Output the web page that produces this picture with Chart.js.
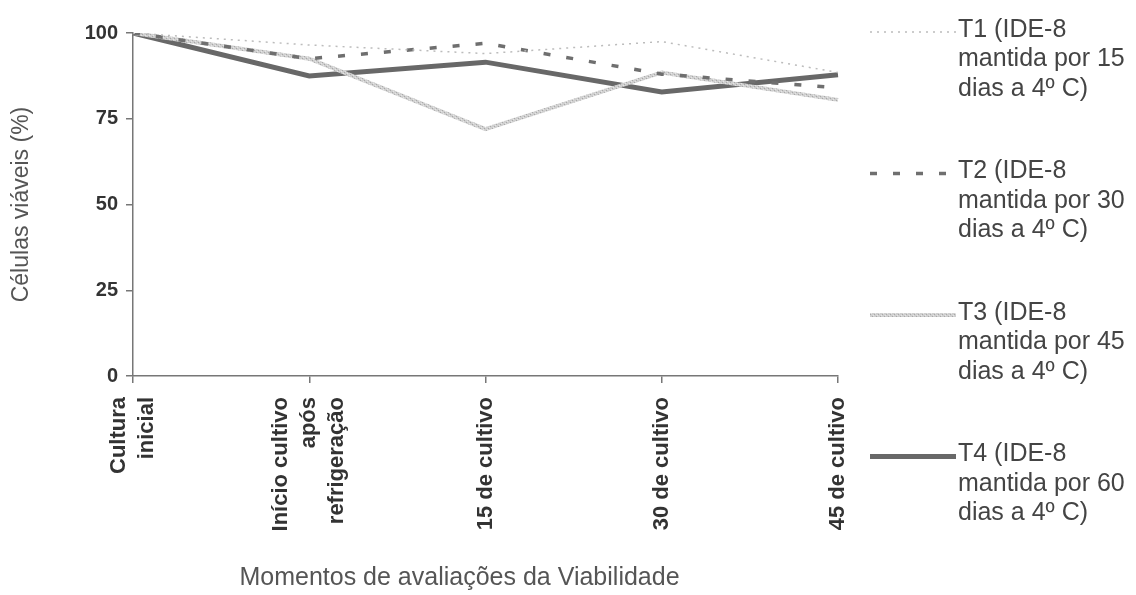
<!DOCTYPE html>
<html lang="pt">
<head>
<meta charset="utf-8">
<title>Células viáveis (%)</title>
<script src="https://cdn.jsdelivr.net/npm/chart.js@4.4.1/dist/chart.umd.min.js"></script>
<style>
    html, body { margin: 0; padding: 0; background: #fff; }
    #wrap { position: relative; width: 1136px; height: 595px; }
</style>
</head>
<body>
<div id="wrap"><canvas id="viabilidadeChart"></canvas></div>
<script>
// --- Data ---
const categories = ['Cultura inicial', 'Início cultivo após refrigeração', '15 de cultivo', '30 de cultivo', '45 de cultivo'];
const categoryLines = [
    ['Cultura', 'inicial'],
    ['Início cultivo', 'após', 'refrigeração'],
    ['15 de cultivo'],
    ['30 de cultivo'],
    ['45 de cultivo']
];
const yTicks = [0, 25, 50, 75, 100];

const t1Values = [100, 96.5, 94, 97.5, 88.5];
const t2Values = [100, 92.5, 97, 88, 84];
const t3Values = [100, 92.5, 72, 88.5, 80.5];
const t4Values = [100, 87.5, 91.5, 82.8, 87.8];

const seriesNames = [
    'T1 (IDE-8 mantida por 15 dias a 4º C)',
    'T2 (IDE-8 mantida por 30 dias a 4º C)',
    'T3 (IDE-8 mantida por 45 dias a 4º C)',
    'T4 (IDE-8 mantida por 60 dias a 4º C)'
];
const legendLines = [
    ['T1 (IDE-8', 'mantida por 15', 'dias a 4º C)'],
    ['T2 (IDE-8', 'mantida por 30', 'dias a 4º C)'],
    ['T3 (IDE-8', 'mantida por 45', 'dias a 4º C)'],
    ['T4 (IDE-8', 'mantida por 60', 'dias a 4º C)']
];
const yTitle = 'Células viáveis (%)';
const xTitle = 'Momentos de avaliações da Viabilidade';

const FONT = "'Liberation Sans', Arial, sans-serif";

// speckled light grey stroke used by T3
function makeSpeckle() {
    const c = document.createElement('canvas');
    c.width = 4; c.height = 4;
    const g = c.getContext('2d');
    g.fillStyle = '#cfcfcf';
    g.fillRect(0, 0, 4, 4);
    g.fillStyle = '#a9a9a9';
    g.fillRect(0, 0, 1, 1);
    g.fillRect(2, 2, 1, 1);
    g.fillStyle = '#e6e6e6';
    g.fillRect(1, 3, 1, 1);
    g.fillRect(3, 1, 1, 1);
    return g.createPattern(c, 'repeat');
}

// x tick labels (rotated, multi-line), x title and the side legend
const annotatePlugin = {
    id: 'annotate',
    afterDraw(chart) {
        const ctx = chart.ctx;
        const xScale = chart.scales.x;
        const area = chart.chartArea;

        // rotated category labels
        ctx.save();
        ctx.fillStyle = '#333';
        ctx.font = `bold 22px ${FONT}`;
        ctx.textAlign = 'right';
        ctx.textBaseline = 'middle';
        const lineGap = 28;
        categoryLines.forEach((lines, i) => {
            const px = xScale.getPixelForValue(i);
            const first = -((lines.length - 1) * lineGap) / 2;
            lines.forEach((txt, j) => {
                ctx.save();
                ctx.translate(px + first + j * lineGap, area.bottom + 21);
                ctx.rotate(-Math.PI / 2);
                ctx.fillText(txt, 0, 0);
                ctx.restore();
            });
        });
        ctx.restore();

        // x axis title
        ctx.save();
        ctx.fillStyle = '#555';
        ctx.font = `25px ${FONT}`;
        ctx.textAlign = 'center';
        ctx.textBaseline = 'middle';
        ctx.fillText(xTitle, (area.left + area.right) / 2 - 26, 578);
        ctx.restore();

        // legend on the right
        const sampleLeft = area.right + 32;
        const sampleRight = area.right + 118;
        const textLeft = area.right + 120;
        chart.data.datasets.forEach((ds, i) => {
            const y = 30 + i * 141.5;
            ctx.save();
            ctx.strokeStyle = ds.borderColor;
            ctx.lineWidth = ds.borderWidth;
            ctx.setLineDash(ds.borderDash || []);
            ctx.beginPath();
            ctx.moveTo(sampleLeft, y + 2);
            ctx.lineTo(sampleRight, y + 2);
            ctx.stroke();
            ctx.restore();

            ctx.save();
            ctx.fillStyle = '#444';
            ctx.font = `25px ${FONT}`;
            ctx.textAlign = 'left';
            ctx.textBaseline = 'middle';
            legendLines[i].forEach((txt, j) => {
                ctx.fillText(txt, textLeft, y + j * 29.5);
            });
            ctx.restore();
        });
    }
};

const ctx = document.getElementById('viabilidadeChart').getContext('2d');

new Chart(ctx, {
    type: 'line',
    data: {
        labels: categories,
        datasets: [
            {
                label: seriesNames[0],
                data: t1Values,
                borderColor: '#bcbcbc',
                borderWidth: 1.5,
                borderDash: [2, 5],
                pointRadius: 0,
                tension: 0
            },
            {
                label: seriesNames[1],
                data: t2Values,
                borderColor: '#6f6f6f',
                borderWidth: 3.5,
                borderDash: [7, 16],
                pointRadius: 0,
                tension: 0
            },
            {
                label: seriesNames[2],
                data: t3Values,
                borderColor: makeSpeckle(),
                borderWidth: 4,
                pointRadius: 0,
                tension: 0
            },
            {
                label: seriesNames[3],
                data: t4Values,
                borderColor: '#686868',
                borderWidth: 5,
                pointRadius: 0,
                tension: 0
            }
        ]
    },
    options: {
        responsive: true,
        maintainAspectRatio: false,
        animation: false,
        layout: { padding: { top: 33, right: 298, bottom: 0, left: 0 } },
        plugins: {
            legend: { display: false },
            tooltip: { enabled: false }
        },
        scales: {
            x: {
                offset: false,
                grid: { drawOnChartArea: false, drawTicks: true, tickLength: 7, color: '#777', lineWidth: 1.5 },
                border: { display: true, color: '#777', width: 1.5 },
                ticks: { display: false },
                afterFit: (scale) => { scale.height = 219; }
            },
            y: {
                min: 0,
                max: 100,
                afterBuildTicks: (scale) => { scale.ticks = yTicks.map(v => ({ value: v })); },
                grid: { drawOnChartArea: false, drawTicks: true, tickLength: 7, color: '#777', lineWidth: 1.5 },
                border: { display: true, color: '#777', width: 1.5 },
                ticks: {
                    color: '#333',
                    font: { family: FONT, size: 20, weight: 'bold' },
                    padding: 8
                },
                title: {
                    display: true,
                    text: yTitle,
                    color: '#555',
                    font: { family: FONT, size: 23 },
                    padding: { top: 8, bottom: 0 }
                },
                afterFit: (scale) => { scale.width = 133; }
            }
        }
    },
    plugins: [annotatePlugin]
});
</script>
</body>
</html>
